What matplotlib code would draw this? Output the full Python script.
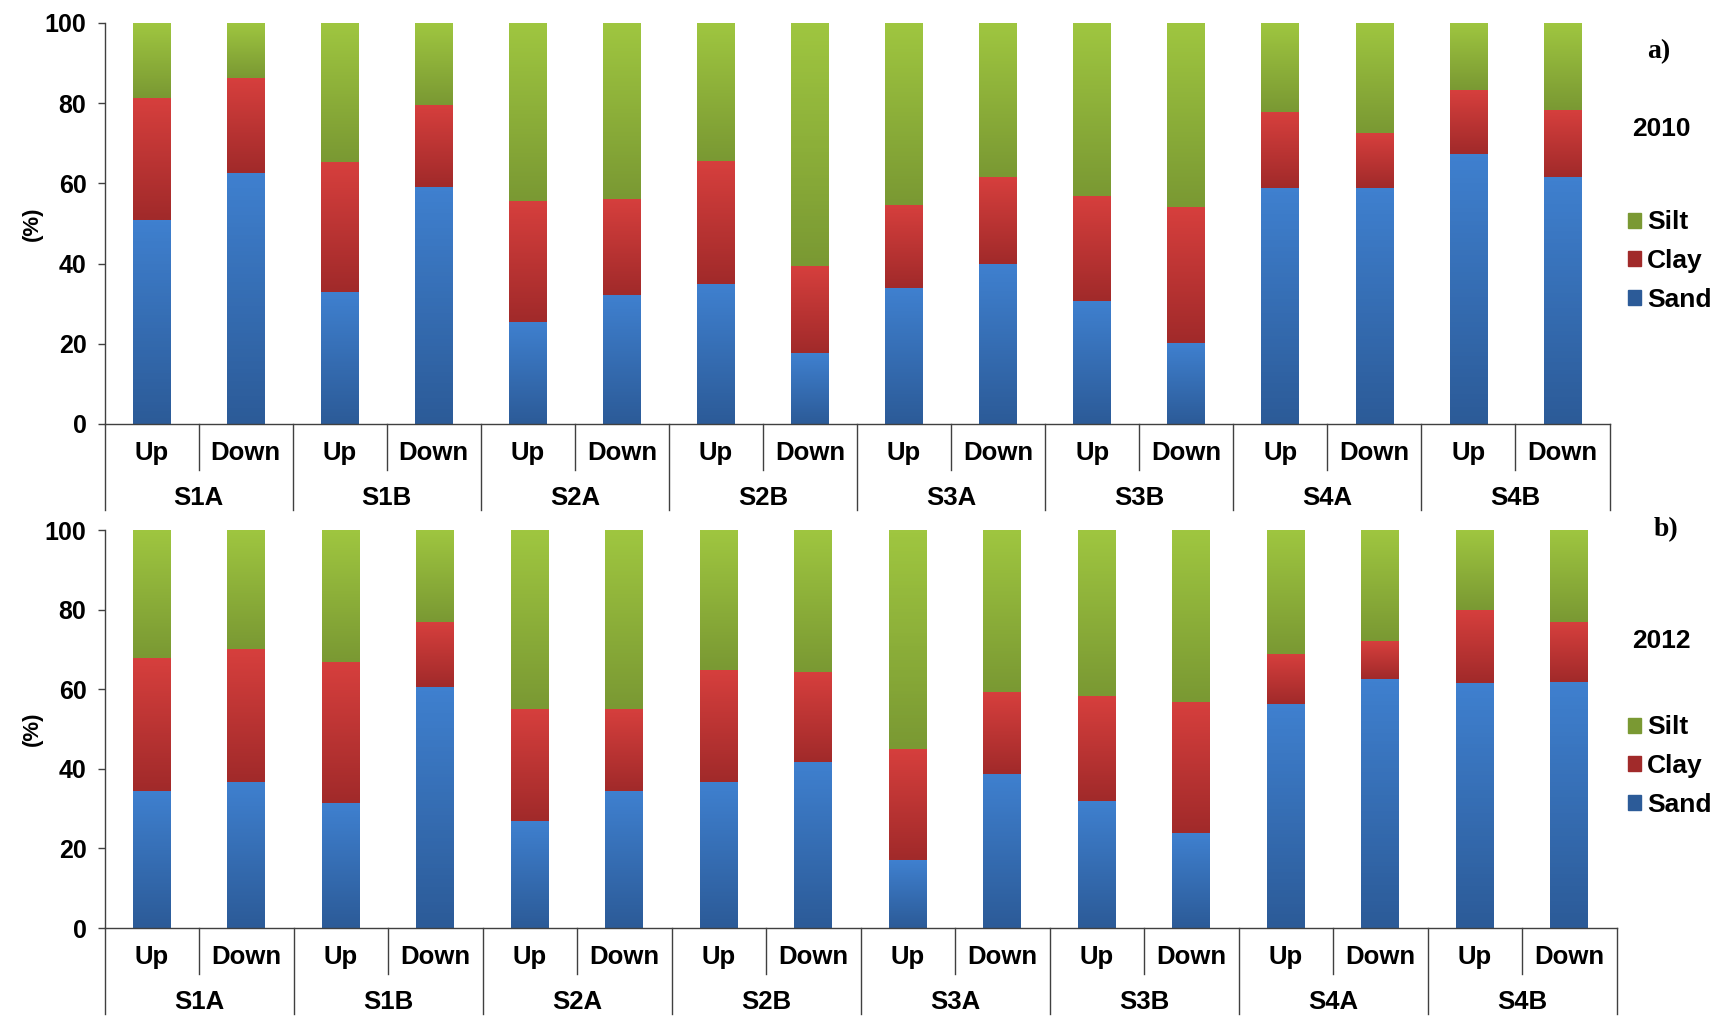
import numpy as np
import matplotlib
matplotlib.use("Agg")
from matplotlib import pyplot as plt
from matplotlib.colors import LinearSegmentedColormap
from matplotlib.patches import Patch

sites = ["S1A", "S1B", "S2A", "S2B", "S3A", "S3B", "S4A", "S4B"]
positions = ["Up", "Down"]

sand_2010 = [50.9, 62.7, 33.0, 59.0, 25.5, 32.2, 34.9, 17.6, 33.9, 39.9, 30.7, 20.1, 58.8, 58.8, 67.4, 61.5]
clay_2010 = [30.4, 23.5, 32.3, 20.6, 30.2, 24.0, 30.6, 21.7, 20.8, 21.6, 26.2, 33.9, 18.9, 13.7, 15.8, 16.9]
silt_2010 = [18.7, 13.8, 34.7, 20.4, 44.3, 43.8, 34.5, 60.7, 45.3, 38.5, 43.1, 46.0, 22.3, 27.5, 16.8, 21.6]

sand_2012 = [34.5, 36.8, 31.4, 60.5, 26.9, 34.3, 36.6, 41.8, 17.0, 38.7, 32.0, 23.8, 56.2, 62.6, 61.5, 61.8]
clay_2012 = [33.3, 33.2, 35.4, 16.3, 28.2, 20.8, 28.3, 22.4, 28.0, 20.5, 26.2, 33.1, 12.6, 9.5, 18.4, 15.0]
silt_2012 = [32.2, 30.0, 33.2, 23.2, 44.9, 44.9, 35.1, 35.8, 55.0, 40.8, 41.8, 43.1, 31.2, 27.9, 20.1, 23.2]

# (top colour, bottom colour) of the excel-like gradient
shades = {
    "Sand": ("#3f80cf", "#2c5b98"),
    "Clay": ("#d63f3d", "#a12a2a"),
    "Silt": ("#9fc640", "#7a9933"),
}

FONT = "Liberation Sans"
W, H = 1725, 1016


def gradient_bars(ax, x, bottom, values, name):
    top, low = shades[name]
    cmap = LinearSegmentedColormap.from_list(name, [low, top])
    grad = np.linspace(0, 1, 64).reshape(-1, 1)
    bars = ax.bar(x, values, 0.4, bottom=bottom, color=top, linewidth=0)
    for p in bars:
        x0, y0 = p.get_xy()
        ax.imshow(grad, cmap=cmap, origin="lower", aspect="auto",
                  extent=[x0, x0 + p.get_width(), y0, y0 + p.get_height()], zorder=2)
    return bars


def panel(fig, rect, sand, clay, silt, year, letter, legend_y, year_y, letter_y):
    ax = fig.add_axes(rect)
    x = np.arange(len(sand))
    sand = np.array(sand)
    clay = np.array(clay)
    silt = np.array(silt)
    gradient_bars(ax, x, 0, sand, "Sand")
    gradient_bars(ax, x, sand, clay, "Clay")
    gradient_bars(ax, x, sand + clay, silt, "Silt")
    ax.set_xlim(-0.5, len(sand) - 0.5)
    ax.set_ylim(0, 100)

    for s in ["top", "right"]:
        ax.spines[s].set_visible(False)
    for s in ["left", "bottom"]:
        ax.spines[s].set_color("#404040")
        ax.spines[s].set_linewidth(1.0)
    ax.set_yticks([0, 20, 40, 60, 80, 100])
    ax.tick_params(axis="y", direction="out", length=5, width=1, color="#404040", pad=8,
                   labelsize=18)
    ax.set_xticks([])
    for lab in ax.get_yticklabels():
        lab.set_fontfamily(FONT)
        lab.set_fontweight("bold")
    wpx = rect[2] * W
    ax.set_ylabel("(%)", fontsize=16, fontweight="bold", family=FONT)
    ax.yaxis.set_label_coords(-62 / wpx, 0.5)

    hpx = rect[3] * H
    short = -46 / hpx
    long = -86 / hpx
    trans = ax.get_xaxis_transform()
    for i in range(len(sand) + 1):
        b = i - 0.5
        y1 = long if i % 2 == 0 else short
        ax.plot([b, b], [0, y1], color="#404040", lw=1.0, transform=trans, clip_on=False)
    for i in range(len(sand)):
        ax.annotate(positions[i % 2], (i, 0), xycoords=trans, xytext=(0, -21),
                    textcoords="offset points", ha="center", va="center",
                    fontsize=18.5, fontweight="bold", family=FONT)
    for g, name in enumerate(sites):
        ax.annotate(name, (2 * g + 0.5, 0), xycoords=trans, xytext=(0, -53),
                    textcoords="offset points", ha="center", va="center",
                    fontsize=18.5, fontweight="bold", family=FONT)

    handles = [Patch(color=shades[n][1]) for n in ["Silt", "Clay", "Sand"]]
    fig.legend(handles, ["Silt", "Clay", "Sand"], loc="center left",
               bbox_to_anchor=(1617 / W, legend_y), frameon=False,
               prop={"family": FONT, "weight": "bold", "size": 19},
               handlelength=0.5, handleheight=0.5, handletextpad=0.25,
               labelspacing=0.55, borderaxespad=0)
    fig.text(1661 / W, year_y, year, ha="center", va="center", fontsize=19,
             fontweight="bold", family=FONT)
    fig.text(letter[1], letter_y, letter[0], ha="center", va="center", fontsize=20,
             fontweight="bold", family="Liberation Serif")
    return ax


fig = plt.figure(figsize=(W / 100, H / 100), dpi=100)
panel(fig, [104.5 / W, 1 - 424 / H, 1505 / W, 401 / H], sand_2010, clay_2010, silt_2010,
      "2010", ("a)", 1659 / W), 1 - 261 / H, 1 - 129 / H, 1 - 52 / H)
panel(fig, [104.5 / W, 1 - 928 / H, 1512 / W, 398 / H], sand_2012, clay_2012, silt_2012,
      "2012", ("b)", 1666 / W), 1 - 766 / H, 1 - 641 / H, 1 - 530 / H)

fig.savefig("out.png", dpi=100)
